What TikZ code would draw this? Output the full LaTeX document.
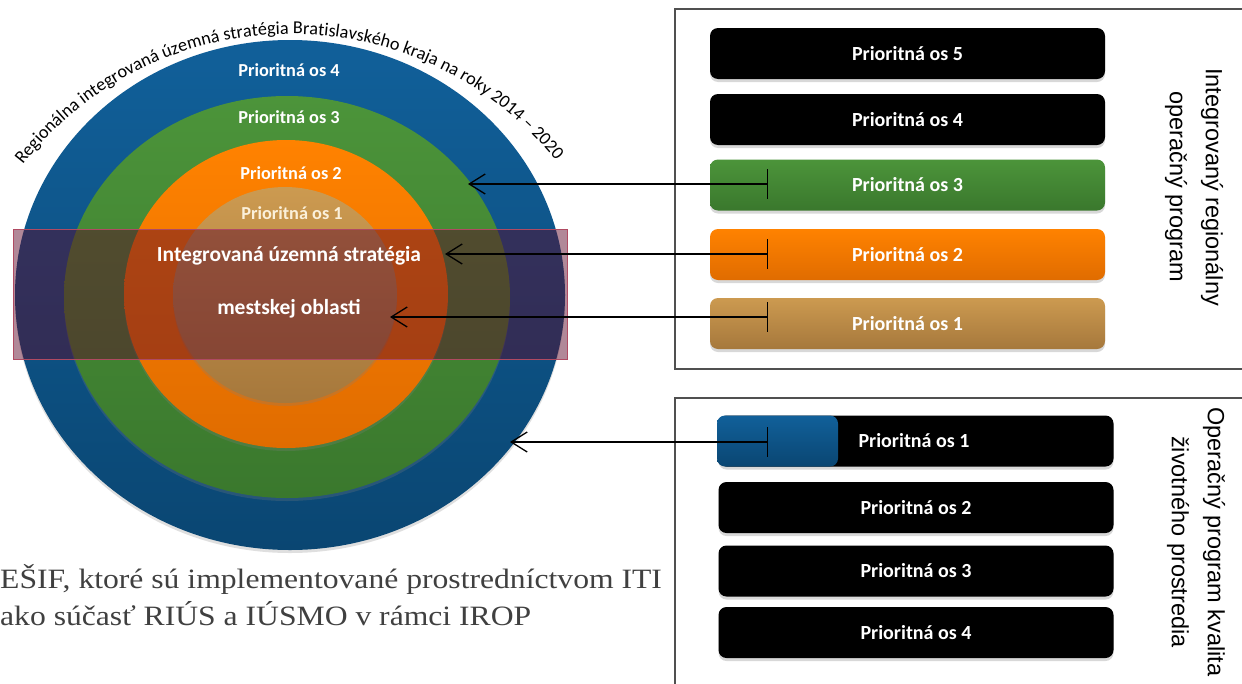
\documentclass[tikz,border=0pt]{standalone}
\usepackage{fontspec}
\setmainfont{Carlito}
\newfontfamily\arialf{Liberation Sans}
\newfontfamily\seriff[FakeStretch=1.13]{Liberation Serif}
\usetikzlibrary{arrows.meta,shadows,decorations.text}
\definecolor{blueT}{HTML}{11609A}
\definecolor{blueB}{HTML}{0A4672}
\definecolor{greenT}{HTML}{4C943A}
\definecolor{greenB}{HTML}{3A782D}
\definecolor{orangeT}{HTML}{FF8200}
\definecolor{orangeB}{HTML}{E06C00}
\definecolor{tanT}{HTML}{CC9A50}
\definecolor{tanB}{HTML}{A6783C}
\definecolor{overC}{HTML}{5C0828}
\definecolor{overD}{HTML}{B04A62}
\definecolor{frameC}{HTML}{505050}
\definecolor{bottomtext}{HTML}{404040}
\definecolor{creamC}{HTML}{FBF0DA}
\tikzset{
  ringlabel/.style={text=white, font=\bfseries\fontsize{18.3}{20}\selectfont, inner sep=0pt},
  biglabel/.style={text=white, font=\bfseries\fontsize{21.5}{24}\selectfont, inner sep=0pt},
  barbox/.style={rounded corners=8pt, minimum width=395pt, minimum height=51pt, text=white,
    font=\bfseries\fontsize{20}{22}\selectfont, inner sep=0pt,
    drop shadow={opacity=0.3, shadow xshift=0pt, shadow yshift=-3pt}},
  ringshadow/.style={drop shadow={opacity=0.25, shadow xshift=0pt, shadow yshift=-3pt}},
  framebox/.style={draw=frameC, line width=1.2pt},
  conn/.style={line width=1.3pt, {Bar[width=30pt]}-{Straight Barb[length=16pt,width=20pt]}},
  rottext/.style={rotate=-90, align=center, inner sep=0pt, font=\arialf\fontsize{23.5}{36}\selectfont},
  bottomline/.style={anchor=base west, inner sep=0pt, text=bottomtext, font=\seriff\fontsize{28}{37}\selectfont},
}
\begin{document}
\begin{tikzpicture}[x=1pt,y=-1pt]
\useasboundingbox (0,0) rectangle (1242,683);
\clip (0,0) rectangle (1242,683);
\fill[white] (0,0) rectangle (1242,683);

% concentric rings
\path[ringshadow, top color=blueT, bottom color=blueB] (290,295) ellipse [x radius=275, y radius=255];
\path[ringshadow, top color=greenT, bottom color=greenB] (287,297) ellipse [x radius=223, y radius=201];
\path[ringshadow, top color=orangeT, bottom color=orangeB] (286,294) ellipse [x radius=162, y radius=154];
\path[ringshadow, top color=tanT, bottom color=tanB] (285,295) ellipse [x radius=112, y radius=108];

% arc title
\begin{scope}[shift={(291,374)}, x=1pt, y=1pt]
\path[decorate, decoration={text along path,
  text={|\fontsize{18.2}{20}\selectfont|Regionálna integrovaná územná stratégia Bratislavského kraja na roky 2014 – 2020},
  text align=center}] (142.6:340) arc[start angle=142.6, end angle=38.3, radius=340];
\end{scope}

\node[ringlabel] (r4) at (289,70) {Prioritná os 4};
\node[ringlabel] (r3) at (289,117) {Prioritná os 3};
\node[ringlabel] (r2) at (291,173) {Prioritná os 2};
\node[ringlabel, text=creamC] (r1) at (292,213) {Prioritná os 1};

% overlay band
\fill[overC, opacity=0.48] (13,229) rectangle (567,359);
\draw[overD, line width=0.8pt] (13,229) rectangle (567,359);
\node[biglabel] (ius1) at (289,256) {Integrovaná územná stratégia};
\node[biglabel] (ius2) at (289,309) {mestskej oblasti};

% frames
\draw[framebox] (675,9) rectangle (1270,369);
\draw[framebox] (675,398) rectangle (1270,700);

% upper bars
\node[barbox, fill=black] (b5) at (907.5,53.5) {Prioritná os 5};
\node[barbox, fill=black] (b4) at (907.5,119.5) {Prioritná os 4};
\node[barbox, top color=greenT, bottom color=greenB] (b3) at (907.5,185) {Prioritná os 3};
\node[barbox, top color=orangeT, bottom color=orangeB] (b2) at (907.5,254.5) {Prioritná os 2};
\node[barbox, top color=tanT, bottom color=tanB] (b1) at (907.5,323.5) {Prioritná os 1};

% lower bars
\node[barbox, fill=black] (c1) at (916,441) {\hspace*{-4pt}Prioritná os 1};
\node[rounded corners=8pt, minimum width=121pt, minimum height=51pt, inner sep=0pt,
  top color=blueT, bottom color=blueB] (c1b) at (777.5,441) {};
\node[barbox, fill=black] (c2) at (916,507.5) {Prioritná os 2};
\node[barbox, fill=black] (c3) at (916,571) {Prioritná os 3};
\node[barbox, fill=black] (c4) at (916,632.5) {Prioritná os 4};

% rotated titles
\node[rottext] (irop) at (1194,187) {Integrovaný regionálny\\operačný program};
\node[rottext] (opkzp) at (1196,542) {Operačný program kvalita\\životného prostredia};

% bottom text
\node[bottomline] (note1) at (0,588) {EŠIF, ktoré sú implementované prostredníctvom ITI};
\node[bottomline] (note2) at (0,625) {ako súčasť RIÚS a IÚSMO v rámci IROP};

% connectors
\coordinate (t3) at (768,184);
\coordinate (e3) at (468,184);
\coordinate (t2) at (768,254);
\coordinate (e2) at (445,254);
\coordinate (t1) at (768,317);
\coordinate (e1) at (390,317);
\coordinate (tq) at (768,442);
\coordinate (eq) at (510,442);
\draw[conn] (t3) -- (e3);
\draw[conn] (t2) -- (e2);
\draw[conn] (t1) -- (e1);
\draw[conn] (tq) -- (eq);
\end{tikzpicture}
\end{document}
